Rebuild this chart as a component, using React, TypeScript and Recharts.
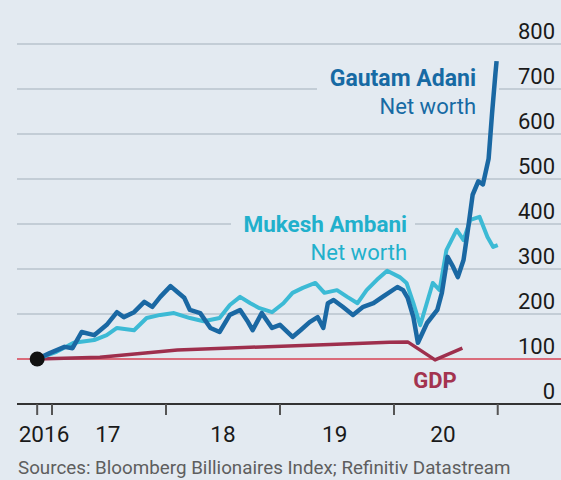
import React from 'react';
import { LineChart, Line, XAxis, YAxis, CartesianGrid, ReferenceLine, ReferenceDot } from 'recharts';

// index, start = 100; x values are decimal years
const adaniDates = [2016.87, 2016.98, 2017.11, 2017.18, 2017.26, 2017.37, 2017.48, 2017.57, 2017.63, 2017.72, 2017.81, 2017.88, 2017.95, 2018.04, 2018.10, 2018.16, 2018.21, 2018.30, 2018.39, 2018.47, 2018.56, 2018.65, 2018.72, 2018.76, 2018.84, 2018.93, 2019.00, 2019.11, 2019.18, 2019.26, 2019.33, 2019.38, 2019.42, 2019.47, 2019.55, 2019.64, 2019.73, 2019.82, 2019.90, 2020.03, 2020.08, 2020.12, 2020.17, 2020.21, 2020.29, 2020.38, 2020.42, 2020.47, 2020.52, 2020.56, 2020.61, 2020.65, 2020.69, 2020.74, 2020.78, 2020.83, 2020.86, 2020.89, 2020.90];
const adaniValues = [100, 113, 127, 124, 160, 153, 176, 204, 193, 204, 227, 216, 238, 262, 249, 236, 209, 202, 169, 160, 198, 209, 182, 164, 202, 169, 176, 149, 164, 182, 193, 169, 224, 231, 216, 198, 216, 224, 238, 260, 253, 236, 193, 136, 180, 209, 247, 327, 304, 282, 320, 390, 465, 495, 488, 545, 645, 735, 762];

const ambaniDates = [2016.87, 2017.04, 2017.19, 2017.37, 2017.48, 2017.57, 2017.72, 2017.83, 2017.95, 2018.07, 2018.21, 2018.33, 2018.47, 2018.56, 2018.65, 2018.74, 2018.82, 2018.93, 2019.03, 2019.11, 2019.20, 2019.31, 2019.39, 2019.50, 2019.59, 2019.68, 2019.76, 2019.85, 2019.94, 2020.05, 2020.11, 2020.17, 2020.23, 2020.27, 2020.34, 2020.40, 2020.46, 2020.55, 2020.61, 2020.67, 2020.75, 2020.82, 2020.87, 2020.91];
const ambaniValues = [100, 116, 136, 142, 153, 169, 164, 191, 198, 202, 191, 184, 191, 220, 238, 224, 213, 204, 224, 247, 258, 269, 247, 253, 238, 224, 253, 276, 296, 282, 269, 224, 175, 209, 269, 253, 342, 387, 364, 409, 416, 371, 349, 353];

const gdpDates = [2016.87, 2017.42, 2018.10, 2018.74, 2019.44, 2019.96, 2020.12, 2020.36, 2020.60];
const gdpValues = [100, 104, 120, 126, 132, 137, 138, 98, 124];

const yTicks = [0, 100, 200, 300, 400, 500, 600, 700, 800];
const yearTicks = [2016.87, 2017.0, 2018.0, 2019.0, 2020.0, 2020.91];
const yearLabelDates = [2016.93, 2017.49, 2018.5, 2019.48, 2020.43];
const yearLabels = ['2016', '17', '18', '19', '20'];

const zip = (xs: number[], ys: number[]) => xs.map((t, i) => ({ t, v: ys[i] }));
const adaniData = zip(adaniDates, adaniValues);
const ambaniData = zip(ambaniDates, ambaniValues);
const gdpData = zip(gdpDates, gdpValues);

const BG = '#e3eaf1';
const FONT = 'Roboto, sans-serif';

const XTick = ({ x, y, payload }: any) => {
  const i = yearLabelDates.indexOf(payload.value);
  if (i >= 0) {
    return (
      <text x={x} y={y + 38} textAnchor="middle" fontSize={22.5} fill="#1a1a1a" fontFamily={FONT}>
        {yearLabels[i]}
      </text>
    );
  }
  return <line x1={x} y1={y} x2={x} y2={y + 11} stroke="#555" strokeWidth={2} />;
};

const YTick = ({ x, y, payload }: any) => (
  <text x={x} y={y - 5} textAnchor="end" fontSize={22} fill="#1a1a1a" fontFamily={FONT}>
    {payload.value}
  </text>
);

export default function App() {
  return (
    <div style={{ position: 'absolute', left: 0, top: 0, width: 561, height: 480, overflow: 'hidden', background: BG, fontFamily: FONT }}>
      <LineChart width={561} height={480} data={adaniData} margin={{ top: 44, right: 0, bottom: 36, left: 17 }}>
        <CartesianGrid vertical={false} stroke="#b9c3cc" strokeWidth={1.5} />
        <XAxis
          dataKey="t"
          type="number"
          domain={[2016.693, 2021.465]}
          ticks={[...yearTicks, ...yearLabelDates].sort((a, b) => a - b)}
          interval={0}
          tick={<XTick />}
          tickLine={false}
          tickSize={0}
          tickMargin={0}
          height={40}
          axisLine={{ stroke: '#333', strokeWidth: 2 }}
        />
        <YAxis
          type="number"
          domain={[0, 800]}
          ticks={yTicks}
          orientation="right"
          mirror
          axisLine={false}
          tickLine={false}
          tickSize={0}
          tickMargin={6}
          tick={<YTick />}
        />
        <ReferenceLine y={100} stroke="#e24b5d" strokeWidth={1.5} />
        <g>
          <rect x={317} y={62} width={182} height={58} fill={BG} />
          <text x={476} y={86} textAnchor="end" fontSize={23} fontWeight="bold" fill="#176aa4" fontFamily={FONT}>Gautam Adani</text>
          <text x={476} y={114} textAnchor="end" fontSize={22} fill="#176aa4" fontFamily={FONT}>Net worth</text>
        </g>
        <g>
          <rect x={231} y={210} width={184} height={56} fill={BG} />
          <text x={407} y={232} textAnchor="end" fontSize={22.5} fontWeight="bold" fill="#21b0cc" fontFamily={FONT}>Mukesh Ambani</text>
          <text x={407} y={260} textAnchor="end" fontSize={22} fill="#21b0cc" fontFamily={FONT}>Net worth</text>
        </g>
        <text x={435} y={388} textAnchor="middle" fontSize={22} fontWeight="bold" fill="#a3344f" fontFamily={FONT}>GDP</text>
        <Line data={gdpData} dataKey="v" stroke="#9e2f4d" strokeWidth={3.5} dot={false} isAnimationActive={false} strokeLinejoin="round" />
        <Line data={ambaniData} dataKey="v" stroke="#3cbad5" strokeWidth={4} dot={false} isAnimationActive={false} strokeLinejoin="round" />
        <Line data={adaniData} dataKey="v" stroke="#1a68a3" strokeWidth={4.5} dot={false} isAnimationActive={false} strokeLinejoin="round" />
        <ReferenceDot x={adaniDates[0]} y={adaniValues[0]} r={7.5} fill="#111" stroke="none" />
        <text x={18} y={474} fontSize={18.8} fill="#5e5e5e" fontFamily={FONT}>
          Sources: Bloomberg Billionaires Index; Refinitiv Datastream
        </text>
      </LineChart>
    </div>
  );
}
